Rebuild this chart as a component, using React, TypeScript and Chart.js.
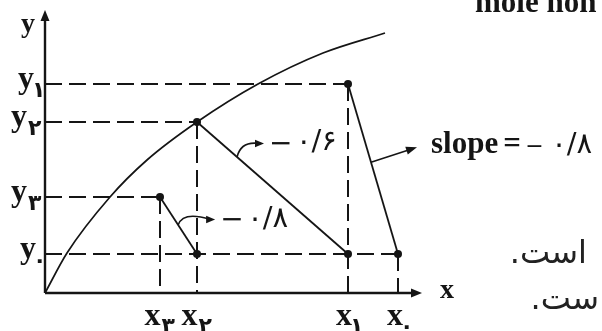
import { useEffect, useRef } from 'react';
import { Chart, registerables } from 'chart.js';

Chart.register(...registerables);

// ---- data (units are arbitrary axis units) ----
const subscripts = ['۰', '۱', '۲', '۳'];
const xValues = [353, 303, 152, 115]; // x0, x1, x2, x3
const yValues = [39, 209, 171, 96]; // y0, y1, y2, y3
const curveX = [0, 22, 65, 102, 152, 213, 278, 340];
const curveY = [0, 40, 96, 133, 171, 209, 240, 260];
// slope label for segment i: (x_i, y_i) -> (x_{i-1}, y0), i = 1..3
const slopeLabels = ['−۰/۸', '−۰/۶', '−۰/۸'];
const slopeWord = 'slope';
const axisNames = ['x', 'y'];
const sideNotes = ['است.', 'ست.'];
const headerText = 'mole hon';

const INK = '#151515';
const SERIF = "'Liberation Serif', 'DejaVu Serif', serif";
const PERSIAN = "'DejaVu Sans', sans-serif";

export default function App() {
  const ref = useRef<HTMLCanvasElement>(null);

  useEffect(() => {
    const canvas = ref.current;
    if (!canvas) return;
    const pt = (x: number, y: number) => ({ x, y });
    const datasets: any[] = [];

    // dashed guides
    subscripts.forEach((_, i) => {
      const common = {
        borderColor: INK,
        borderWidth: 2,
        borderDash: [17, 7],
        pointRadius: 0,
        showLine: true,
        clip: false,
      };
      datasets.push({ ...common, data: [pt(0, yValues[i]), pt(xValues[i], yValues[i])] });
      datasets.push({ ...common, data: [pt(xValues[i], yValues[i]), pt(xValues[i], 0)] });
    });

    // the curve
    datasets.push({
      data: curveX.map((x, i) => pt(x, curveY[i])),
      borderColor: INK,
      borderWidth: 1.7,
      pointRadius: 0,
      showLine: true,
      cubicInterpolationMode: 'monotone',
      clip: false,
    });

    // solid segments
    for (let i = 1; i < subscripts.length; i++) {
      datasets.push({
        data: [pt(xValues[i], yValues[i]), pt(xValues[i - 1], yValues[0])],
        borderColor: INK,
        borderWidth: 1.8,
        pointRadius: 0,
        showLine: true,
        clip: false,
      });
    }

    // points
    const pts = subscripts.map((_, i) => pt(xValues[i], yValues[i]));
    for (let i = 1; i < subscripts.length - 1; i++) pts.push(pt(xValues[i], yValues[0]));
    datasets.push({
      data: pts,
      pointRadius: 4,
      pointBackgroundColor: INK,
      pointBorderColor: INK,
      pointBorderWidth: 0,
      showLine: false,
      clip: false,
    });

    const arrowHead = (ctx: CanvasRenderingContext2D, tx: number, ty: number, ang: number, len: number, half: number) => {
      ctx.beginPath();
      ctx.moveTo(tx, ty);
      ctx.lineTo(tx - len * Math.cos(ang) + half * Math.sin(ang), ty - len * Math.sin(ang) - half * Math.cos(ang));
      ctx.lineTo(tx - len * Math.cos(ang) - half * Math.sin(ang), ty - len * Math.sin(ang) + half * Math.cos(ang));
      ctx.closePath();
      ctx.fill();
    };

    const MAIN_FONT = `bold 32px ${SERIF}`;
    const SUB_FONT = `bold 22px ${PERSIAN}`;

    const subLabel = (
      ctx: CanvasRenderingContext2D,
      main: string,
      sub: string,
      align: (w: number) => number,
      base: number,
      subBase: number
    ) => {
      ctx.textAlign = 'left';
      ctx.textBaseline = 'alphabetic';
      ctx.direction = 'ltr';
      ctx.font = MAIN_FONT;
      const mm = ctx.measureText(main);
      const mw = mm.actualBoundingBoxLeft + mm.actualBoundingBoxRight;
      ctx.font = SUB_FONT;
      const sm = ctx.measureText(sub);
      const sw = sm.actualBoundingBoxLeft + sm.actualBoundingBoxRight;
      const left = align(mw + 1 + sw);
      ctx.font = MAIN_FONT;
      ctx.fillText(main, left + mm.actualBoundingBoxLeft, base);
      ctx.font = SUB_FONT;
      ctx.fillText(sub, left + mw + 1 + sm.actualBoundingBoxLeft, subBase);
    };

    // "−" centred on yMid, then the Persian number, spread out
    const slopeText = (
      ctx: CanvasRenderingContext2D,
      label: string,
      x: number,
      yMid: number,
      base: number,
      minusPx: number,
      gap: number,
      spacing: number
    ) => {
      ctx.direction = 'ltr';
      ctx.textAlign = 'left';
      ctx.font = `${minusPx}px ${PERSIAN}`;
      const minus = label.slice(0, 1);
      const mm = ctx.measureText(minus);
      const mBase = yMid + (mm.actualBoundingBoxAscent - mm.actualBoundingBoxDescent) / 2;
      ctx.fillText(minus, x + mm.actualBoundingBoxLeft, mBase);
      const right = x + mm.actualBoundingBoxLeft + mm.actualBoundingBoxRight;
      ctx.font = `29px ${PERSIAN}`;
      (ctx as any).letterSpacing = `${spacing}px`;
      ctx.fillText(label.slice(1), right + gap, base);
      (ctx as any).letterSpacing = '0px';
    };

    const diagram = {
      id: 'diagram',
      beforeDatasetsDraw(chart: any) {
        const { ctx, chartArea } = chart;
        const xs = chart.scales.x;
        const ys = chart.scales.y;
        const X0 = xs.getPixelForValue(0);
        const Y0 = ys.getPixelForValue(0);
        ctx.save();
        ctx.strokeStyle = INK;
        ctx.fillStyle = INK;
        ctx.lineWidth = 2.4;
        ctx.beginPath();
        ctx.moveTo(X0, Y0);
        ctx.lineTo(X0, chartArea.top + 6);
        ctx.moveTo(X0, Y0);
        ctx.lineTo(chartArea.right - 10, Y0);
        ctx.stroke();
        arrowHead(ctx, X0, chartArea.top - 2, -Math.PI / 2, 11, 4.5);
        arrowHead(ctx, chartArea.right - 3, Y0, 0, 11, 4.5);
        ctx.restore();
      },
      afterDatasetsDraw(chart: any) {
        const { ctx, chartArea } = chart;
        const xs = chart.scales.x;
        const ys = chart.scales.y;
        const X0 = xs.getPixelForValue(0);
        const Y0 = ys.getPixelForValue(0);
        ctx.save();
        ctx.fillStyle = INK;
        ctx.strokeStyle = INK;

        // y tick labels
        subscripts.forEach((s, i) => {
          const py = ys.getPixelForValue(yValues[i]);
          subLabel(ctx, axisNames[1], s, (w) => X0 - 3 - w, py + 4, py + 13);
        });
        // x tick labels
        subscripts.forEach((s, i) => {
          const px = xs.getPixelForValue(xValues[i]);
          subLabel(ctx, axisNames[0], s, (w) => px - w / 2, Y0 + 32, Y0 + 40);
        });

        // axis names
        ctx.font = `bold 28px ${SERIF}`;
        ctx.textAlign = 'left';
        let m = ctx.measureText(axisNames[1]);
        ctx.fillText(axisNames[1], X0 - 10 - m.actualBoundingBoxRight, chartArea.top + 20);
        m = ctx.measureText(axisNames[0]);
        ctx.fillText(axisNames[0], chartArea.right + 15 + m.actualBoundingBoxLeft, Y0 + 5);

        // slope annotations
        const segPoint = (i: number, t: number) => {
          const ax = xs.getPixelForValue(xValues[i]);
          const ay = ys.getPixelForValue(yValues[i]);
          const bx = xs.getPixelForValue(xValues[i - 1]);
          const by = ys.getPixelForValue(yValues[0]);
          return [ax + (bx - ax) * t, ay + (by - ay) * t];
        };
        const curved = [
          { seg: 2, t: 0.265, dx: 27, dy: -13.5, cx: 4, cy: -16, tx: 7, base: 6.5 },
          { seg: 3, t: 0.49, dx: 37, dy: -5.5, cx: 5, cy: -14, tx: 7, base: 7.5 },
        ];
        ctx.lineWidth = 1.6;
        curved.forEach((a) => {
          const [sx, sy] = segPoint(a.seg, a.t);
          const ex = sx + a.dx;
          const ey = sy + a.dy;
          ctx.beginPath();
          ctx.moveTo(sx, sy);
          ctx.quadraticCurveTo(sx + a.cx, sy + a.cy, ex - 5, ey);
          ctx.stroke();
          arrowHead(ctx, ex, ey, 0, 9, 3.8);
          slopeText(ctx, slopeLabels[a.seg - 1], ex + a.tx, ey, ey + a.base, 28, 6, 3);
        });

        // straight arrow to "slope = ..."
        {
          const [sx, sy] = segPoint(1, 0.46);
          const ex = sx + 46;
          const ey = sy - 15;
          const ang = Math.atan2(ey - sy, ex - sx);
          ctx.beginPath();
          ctx.moveTo(sx, sy);
          ctx.lineTo(ex - 8 * Math.cos(ang), ey - 8 * Math.sin(ang));
          ctx.stroke();
          arrowHead(ctx, ex, ey, ang, 11, 4);
          ctx.font = `bold 31px ${SERIF}`;
          ctx.textAlign = 'left';
          ctx.direction = 'ltr';
          const bx = ex + 14;
          const base = ey + 6;
          ctx.fillText(slopeWord, bx, base);
          const w = ctx.measureText(slopeWord).width;
          ctx.fillText('=', bx + w + 5, base);
          slopeText(ctx, slopeLabels[0], bx + w + 29, base - 7, base, 22, 9, 8);
        }

        // clipped header text
        ctx.font = `bold 31px ${SERIF}`;
        ctx.textAlign = 'left';
        ctx.direction = 'ltr';
        ctx.fillText(headerText, 475, 12);

        // Persian side notes
        ctx.font = `32px ${PERSIAN}`;
        ctx.direction = 'rtl';
        ctx.textAlign = 'right';
        ctx.fillStyle = '#222';
        ctx.fillText(sideNotes[0], 587, Y0 - 30);
        ctx.fillText(sideNotes[1], 599, Y0 + 16);
        ctx.restore();
      },
    };

    const chart = new Chart(canvas, {
      type: 'scatter',
      data: { datasets },
      options: {
        animation: false,
        responsive: false,
        devicePixelRatio: 1,
        events: [],
        layout: { padding: { left: 45, right: 177, top: 12, bottom: 38 } },
        scales: {
          x: { type: 'linear', min: 0, max: 380, display: false },
          y: { type: 'linear', min: 0, max: 281, display: false },
        },
        plugins: { legend: { display: false }, tooltip: { enabled: false } },
      } as any,
      plugins: [diagram],
    });
    return () => chart.destroy();
  }, []);

  return (
    <div style={{ width: 602, height: 331 }}>
      <canvas
        ref={ref}
        width={602}
        height={331}
        style={{ position: 'fixed', left: 0, top: 0, width: 602, height: 331, background: '#fff' }}
      />
    </div>
  );
}
